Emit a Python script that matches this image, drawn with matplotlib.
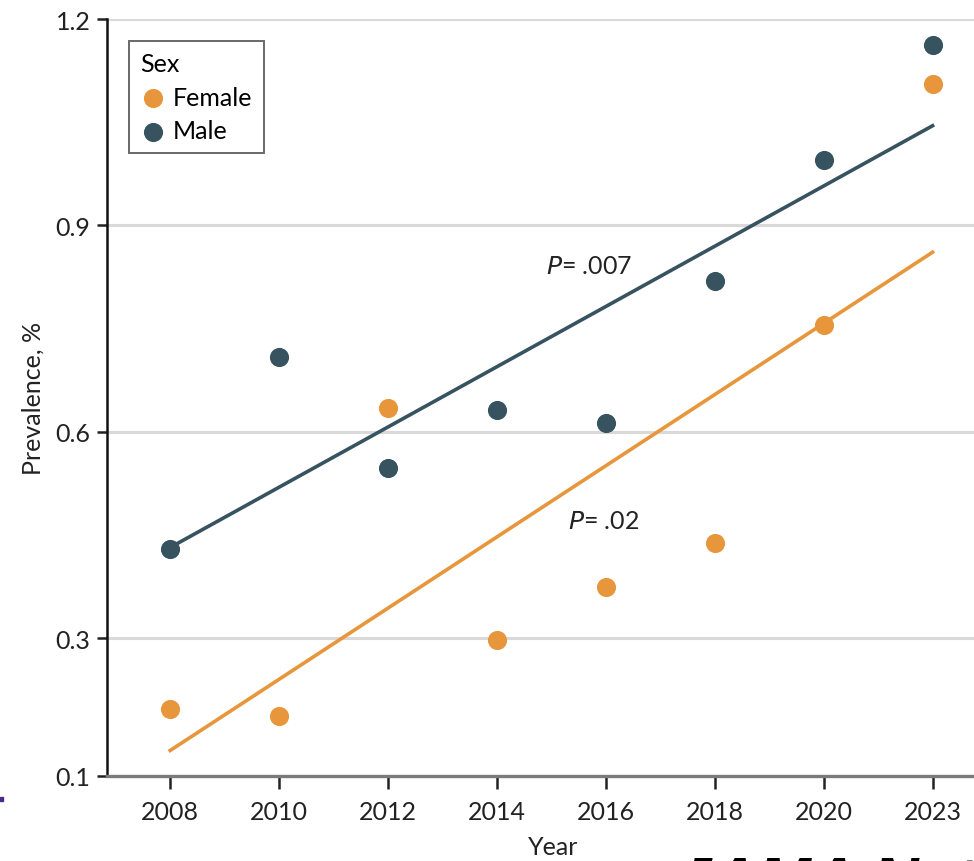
import matplotlib
matplotlib.use("Agg")
import matplotlib.pyplot as plt
import numpy as np
from matplotlib.patches import Rectangle

years = ["2008", "2010", "2012", "2014", "2016", "2018", "2020", "2023"]
female = [0.198, 0.187, 0.635, 0.298, 0.374, 0.439, 0.756, 1.106]
male = [0.430, 0.709, 0.547, 0.632, 0.613, 0.820, 0.995, 1.162]
y_ticks = [0.1, 0.3, 0.6, 0.9, 1.2]

ORANGE = "#E8963C"
TEAL = "#37535F"
TEXT = "#222222"
FS = 18

plt.rcParams["font.family"] = ["Lato", "DejaVu Sans"]

fig = plt.figure(figsize=(9.74, 8.62), dpi=100)
ax = fig.add_axes([107 / 974, 1 - 777 / 862, 1 - 107 / 974, (777 - 20) / 862])

x = np.arange(len(years))
ax.set_xlim(-0.58, 7.38)
ax.set_ylim(0.1, 1.2)

for v in y_ticks[1:]:
    ax.axhline(v, color="#d9d9d9", lw=2.2, zorder=0)

for vals, color in [(female, ORANGE), (male, TEAL)]:
    slope, icpt = np.polyfit(x, vals, 1)
    ax.plot([x[0], x[-1]], [icpt, icpt + slope * x[-1]], color=color, lw=2.6, zorder=2)

ax.scatter(x, female, s=190, color=ORANGE, zorder=3, label="Female", linewidths=0)
ax.scatter(x, male, s=190, color=TEAL, zorder=3, label="Male", linewidths=0)

ax.text(3.85, 0.842, r"$\it{P}$= .007", fontsize=FS, color=TEXT, ha="center", va="center")
ax.text(3.98, 0.471, r"$\it{P}$= .02", fontsize=FS, color=TEXT, ha="center", va="center")

ax.set_xticks(x)
ax.set_xticklabels(years)
ax.set_yticks(y_ticks)
ax.set_yticklabels([f"{v:.1f}" for v in y_ticks])
ax.tick_params(axis="both", labelsize=FS, colors=TEXT, length=7, width=1.8, pad=5)
ax.tick_params(axis="x", length=9, pad=8)

for side in ["top", "right"]:
    ax.spines[side].set_visible(False)
ax.spines["left"].set_color("#111111")
ax.spines["left"].set_linewidth(1.8)
ax.spines["bottom"].set_color("#7a7a7a")
ax.spines["bottom"].set_linewidth(2.4)

ax.set_ylabel("Prevalence, %", fontsize=FS, color=TEXT, labelpad=8)
ax.set_xlabel("Year", fontsize=FS, color=TEXT)
ax.xaxis.set_label_coords((553 - 107) / (974 - 107), -0.078)

leg = ax.legend(loc="upper left", bbox_to_anchor=(0.0254, 0.971), title="Sex",
                fontsize=FS, title_fontsize=FS, frameon=True, fancybox=False,
                handlelength=1.0, handletextpad=0.3, borderpad=0.45,
                labelspacing=0.42, markerscale=1.0, alignment="left", borderaxespad=0)
leg.get_frame().set_edgecolor("#444444")
leg.get_frame().set_linewidth(1.4)

fig.text(676 / 974, -0.062, "JAMA Network", fontsize=46, fontweight="bold",
         style="italic", color="black", ha="left", va="bottom", family="Liberation Sans")
fig.patches.append(Rectangle((0, 1 - 802 / 862), 3 / 974, 4 / 862,
                             transform=fig.transFigure, color="#4B2A8A", figure=fig))

fig.savefig("out.png", dpi=100)
